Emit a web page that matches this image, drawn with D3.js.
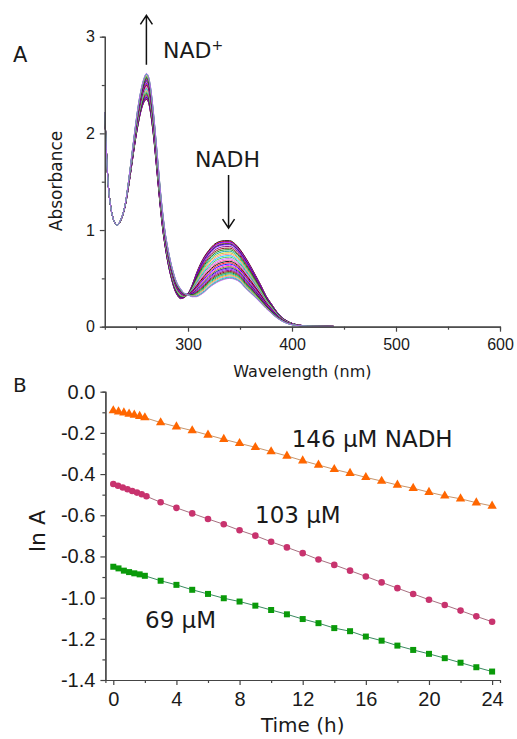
<!DOCTYPE html>
<html>
<head>
<meta charset="utf-8">
<script src="https://cdn.jsdelivr.net/npm/d3@7"></script>
<style>
  body { margin: 0; background: #fff; }
  svg { display: block; font-family: "DejaVu Sans", sans-serif; }
  .axis path, .axis line { stroke: #444; stroke-width: 1.2; }
  .axis text { fill: #1a1a1a; }
</style>
</head>
<body>
<svg id="chart" width="517" height="739"></svg>
<script>
// ---- panel A: UV-vis spectra ----
const wavelengths = [220, 223, 226, 229, 232, 235, 238, 240, 243, 246, 249, 252, 255, 258,
    260, 262, 264, 266, 268, 270, 272, 274, 276, 278, 280, 282, 284, 286, 288, 290,
    293, 296, 300, 304, 308, 312, 316, 320, 325, 330, 335, 340, 345, 350, 355, 360,
    365, 370, 375, 380, 385, 390, 395, 400, 410, 420, 440];
// first scan (NADH rich)
const absFirst = [2.20, 1.52, 1.22, 1.09, 1.05, 1.09, 1.18, 1.27, 1.46, 1.68, 1.90, 2.09, 2.24, 2.33,
    2.35, 2.32, 2.21, 2.05, 1.85, 1.62, 1.39, 1.17, 0.98, 0.83, 0.70, 0.59, 0.50, 0.42, 0.36, 0.32,
    0.29, 0.30, 0.34, 0.43, 0.55, 0.65, 0.73, 0.79, 0.85, 0.88, 0.89, 0.89, 0.86, 0.80, 0.72, 0.63,
    0.53, 0.43, 0.32, 0.24, 0.16, 0.10, 0.06, 0.035, 0.012, 0.005, 0.003];
// last scan (NAD+ rich)
const absLast = [2.22, 1.52, 1.22, 1.09, 1.05, 1.10, 1.19, 1.29, 1.52, 1.78, 2.04, 2.28, 2.46, 2.58,
    2.62, 2.59, 2.48, 2.30, 2.08, 1.84, 1.59, 1.35, 1.15, 0.98, 0.85, 0.74, 0.64, 0.56, 0.49, 0.44,
    0.39, 0.35, 0.33, 0.31, 0.31, 0.33, 0.36, 0.40, 0.44, 0.47, 0.49, 0.50, 0.49, 0.46, 0.40, 0.35,
    0.30, 0.245, 0.19, 0.14, 0.095, 0.06, 0.035, 0.02, 0.008, 0.004, 0.002];
// absorbance at 340 nm of each scan
const scanA340 = [0.89, 0.882, 0.875, 0.868, 0.861, 0.854, 0.847, 0.830, 0.813, 0.797, 0.781,
    0.765, 0.750, 0.735, 0.720, 0.705, 0.690, 0.676, 0.662, 0.648, 0.634, 0.621, 0.608,
    0.596, 0.583, 0.571, 0.559, 0.547, 0.536, 0.525, 0.514, 0.505, 0.50];
const scanColors = ["#000000", "#ff0000", "#0000ff", "#ff00ff", "#808000", "#000080", "#8000ff",
    "#800080", "#800000", "#008000", "#00a0a0", "#c0c000", "#ff8080", "#00c0ff", "#40c040",
    "#c060ff", "#ff40a0"];

const absTicks = [0, 1, 2, 3];
const absMinor = [0.5, 1.5, 2.5];
const wlTicks = [300, 400, 500, 600];
const wlMinor = [250, 350, 450, 550];

// ---- panel B: ln A vs time ----
const time146 = [0, 0.33, 0.67, 1, 1.33, 1.67, 2, 3, 4, 5, 6, 7, 8, 9, 10, 11, 12, 13, 14, 15,
    16, 17, 18, 19, 20, 21, 22, 23, 24];
const lnA146 = [-0.092, -0.097, -0.102, -0.108, -0.113, -0.119, -0.126, -0.150, -0.170, -0.189,
    -0.210, -0.231, -0.251, -0.270, -0.291, -0.312, -0.335, -0.356, -0.377, -0.396, -0.416,
    -0.434, -0.453, -0.469, -0.488, -0.506, -0.520, -0.539, -0.555];
const time103 = [0, 0.3, 0.6, 0.9, 1.2, 1.5, 1.8, 2.1, 3, 4, 5, 6, 7, 8, 9, 10, 11, 12, 13, 14,
    15, 16, 17, 18, 19, 20, 21, 22, 23, 24];
const lnA103 = [-0.448, -0.457, -0.465, -0.474, -0.482, -0.490, -0.498, -0.508, -0.537, -0.564,
    -0.591, -0.618, -0.644, -0.673, -0.699, -0.729, -0.756, -0.784, -0.815, -0.841, -0.869,
    -0.897, -0.926, -0.954, -0.982, -1.010, -1.036, -1.063, -1.091, -1.117];
const time69 = [0, 0.33, 0.67, 1, 1.33, 1.67, 2, 3, 4, 5, 6, 7, 8, 9, 10, 11, 12, 13, 14, 15,
    16, 17, 18, 19, 20, 21, 22, 23, 24];
const lnA69 = [-0.850, -0.858, -0.869, -0.876, -0.882, -0.887, -0.894, -0.918, -0.938, -0.962,
    -0.982, -1.003, -1.019, -1.039, -1.060, -1.081, -1.104, -1.124, -1.148, -1.163, -1.189,
    -1.209, -1.233, -1.254, -1.273, -1.294, -1.316, -1.338, -1.359];

const lnTicks = [-1.4, -1.2, -1.0, -0.8, -0.6, -0.4, -0.2, 0.0];
const lnMinor = [-1.3, -1.1, -0.9, -0.7, -0.5, -0.3, -0.1];
const timeTicks = [0, 4, 8, 12, 16, 20, 24];
const timeMinor = [2, 6, 10, 14, 18, 22];

const svg = d3.select("#chart");
svg.append("rect").attr("width", 517).attr("height", 739).attr("fill", "#fff");

function addAxis(g, axis, size) {
    g.call(axis);
    g.selectAll("text").style("font-size", size + "px");
}

// ================= panel A =================
const xA = d3.scaleLinear().domain([220, 600]).range([104.8, 500]);
const yA = d3.scaleLinear().domain([0, 3]).range([326.7, 36.7]);

const gA = svg.append("g");

// spectra: each scan is a blend of first and last scan matched on its 340 nm value
const a340First = absFirst[wavelengths.indexOf(340)];
const a340Last = absLast[wavelengths.indexOf(340)];
const spectra = scanA340.map(function(a) {
    const f = (a - a340Last) / (a340First - a340Last);
    return wavelengths.map(function(w, i) {
        return { w: w, a: absLast[i] + f * (absFirst[i] - absLast[i]) };
    });
});

const specLine = d3.line()
    .x(function(d) { return xA(d.w); })
    .y(function(d) { return yA(d.a); })
    .curve(d3.curveMonotoneX);

gA.append("g").selectAll("path")
    .data(spectra)
    .enter().append("path")
    .attr("d", specLine)
    .attr("fill", "none")
    .attr("stroke", function(d, i) { return scanColors[i % scanColors.length]; })
    .attr("stroke-width", 0.9);

// axes
gA.append("g").attr("class", "axis")
    .attr("transform", "translate(0," + yA(0) + ")")
    .call(d3.axisBottom(xA).tickValues(wlMinor).tickSize(3).tickFormat(""));
const axA = gA.append("g").attr("class", "axis")
    .attr("transform", "translate(0," + yA(0) + ")");
addAxis(axA, d3.axisBottom(xA).tickValues(wlTicks).tickSize(5).tickSizeOuter(0).tickPadding(7), 16);

gA.append("g").attr("class", "axis")
    .attr("transform", "translate(" + xA(220) + ",0)")
    .call(d3.axisLeft(yA).tickValues(absMinor).tickSize(3).tickFormat(""));
const ayA = gA.append("g").attr("class", "axis")
    .attr("transform", "translate(" + xA(220) + ",0)");
addAxis(ayA, d3.axisLeft(yA).tickValues(absTicks).tickSize(5).tickSizeOuter(0).tickPadding(5)
    .tickFormat(d3.format("d")), 16);

gA.append("text")
    .attr("x", (xA.range()[0] + xA.range()[1]) / 2).attr("y", 377)
    .attr("text-anchor", "middle").style("font-size", "16px").attr("fill", "#1a1a1a")
    .text("Wavelength (nm)");
gA.append("text")
    .attr("transform", "translate(62,181) rotate(-90)")
    .attr("text-anchor", "middle").style("font-size", "17px").attr("fill", "#1a1a1a")
    .text("Absorbance");
gA.append("text").attr("x", 13).attr("y", 61.7)
    .style("font-size", "21px").attr("fill", "#1a1a1a").text("A");

// arrows
function arrow(g, x, y1, y2) {
    const dir = y2 < y1 ? 1 : -1;
    g.append("path")
        .attr("d", "M" + x + "," + y1 + "L" + x + "," + y2 +
            "M" + (x - 6) + "," + (y2 + dir * 9) + "L" + x + "," + y2 + "L" + (x + 6) + "," + (y2 + dir * 9))
        .attr("fill", "none").attr("stroke", "#111").attr("stroke-width", 1.5);
}
arrow(gA, xA(260), yA(2.71), yA(3.22));
arrow(gA, xA(339), yA(1.57), yA(1.02));

const nadText = gA.append("text").attr("x", 163).attr("y", 58.3)
    .style("font-size", "22px").attr("fill", "#1a1a1a");
nadText.append("tspan").text("NAD");
nadText.append("tspan").attr("dy", -8).style("font-size", "14px").text("+");
gA.append("text").attr("x", 195).attr("y", 166.7)
    .style("font-size", "22px").attr("fill", "#1a1a1a").text("NADH");

// ================= panel B =================
const xB = d3.scaleLinear().domain([-0.5, 24.5]).range([105.4, 500]);
const yB = d3.scaleLinear().domain([-1.4, 0]).range([680, 391.7]);

const gB = svg.append("g");

gB.append("g").attr("class", "axis")
    .attr("transform", "translate(0," + yB(-1.4) + ")")
    .call(d3.axisBottom(xB).tickValues(timeMinor).tickSize(3).tickFormat(""));
const axB = gB.append("g").attr("class", "axis")
    .attr("transform", "translate(0," + yB(-1.4) + ")");
addAxis(axB, d3.axisBottom(xB).tickValues(timeTicks).tickSize(5).tickSizeOuter(0).tickPadding(7), 20);

gB.append("g").attr("class", "axis")
    .attr("transform", "translate(" + xB(-0.5) + ",0)")
    .call(d3.axisLeft(yB).tickValues(lnMinor).tickSize(3).tickFormat(""));
const ayB = gB.append("g").attr("class", "axis")
    .attr("transform", "translate(" + xB(-0.5) + ",0)");
addAxis(ayB, d3.axisLeft(yB).tickValues(lnTicks).tickSize(5).tickSizeOuter(0).tickPadding(5)
    .tickFormat(function(d) { return d3.format(".1f")(d).replace("\u2212", "-"); }), 20);

gB.append("text")
    .attr("x", (xB.range()[0] + xB.range()[1]) / 2).attr("y", 732)
    .attr("text-anchor", "middle").style("font-size", "20px").attr("fill", "#1a1a1a")
    .text("Time (h)");
gB.append("text")
    .attr("transform", "translate(45,531) rotate(-90)")
    .attr("text-anchor", "middle").style("font-size", "22px").attr("fill", "#1a1a1a")
    .text("ln A");
gB.append("text").attr("x", 13).attr("y", 391.7)
    .style("font-size", "20px").attr("fill", "#1a1a1a").text("B");

const series = [
    { t: time146, v: lnA146, fill: "#ff6600", line: "#c9956a", symbol: d3.symbolTriangle, size: 38 },
    { t: time103, v: lnA103, fill: "#c8336e", line: "#a86f80", symbol: d3.symbolCircle, size: 34 },
    { t: time69, v: lnA69, fill: "#0a9a0a", line: "#3a8a60", symbol: d3.symbolSquare, size: 36 }
];

const kinLine = d3.line()
    .x(function(d) { return xB(d[0]); })
    .y(function(d) { return yB(d[1]); });

series.forEach(function(s) {
    const pts = s.t.map(function(t, i) { return [t, s.v[i]]; });
    gB.append("path")
        .attr("d", kinLine(pts))
        .attr("fill", "none")
        .attr("stroke", s.line)
        .attr("stroke-width", 1);
    gB.append("g").selectAll("path")
        .data(pts)
        .enter().append("path")
        .attr("transform", function(d) { return "translate(" + xB(d[0]) + "," + yB(d[1]) + ")"; })
        .attr("d", d3.symbol().type(s.symbol).size(s.size))
        .attr("fill", s.fill);
});

gB.append("text").attr("x", 291.7).attr("y", 446.7)
    .style("font-size", "23px").attr("fill", "#1a1a1a").text("146 \u00b5M NADH");
gB.append("text").attr("x", 255).attr("y", 523.3)
    .style("font-size", "23px").attr("fill", "#1a1a1a").text("103 \u00b5M");
gB.append("text").attr("x", 145).attr("y", 628.3)
    .style("font-size", "23px").attr("fill", "#1a1a1a").text("69 \u00b5M");
</script>
</body>
</html>
